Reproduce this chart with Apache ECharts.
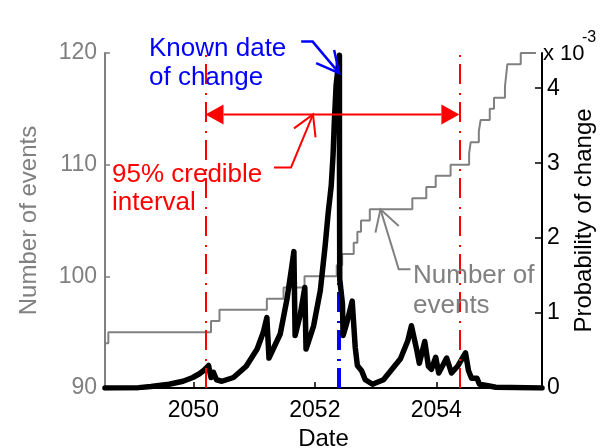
<!DOCTYPE html>
<html>
<head>
<meta charset="utf-8">
<script src="https://cdn.jsdelivr.net/npm/echarts@6/dist/echarts.min.js"></script>
<style>
  html, body { margin: 0; padding: 0; background: #fff; }
  #chart { width: 605px; height: 448px; }
</style>
</head>
<body>
<div id="chart"></div>
<script>
// Date range shown on the x axis and its labelled years
const dateRange = [2048.545, 2055.74];
const dateTicks = [2050, 2052, 2054];

// Cumulative number of events: date at which each count begins
const eventDates = [2048.545, 2048.60, 2050.29, 2050.43, 2051.21, 2051.485, 2051.83, 2052.36,
  2052.45, 2052.64, 2052.70, 2052.76, 2052.905, 2053.605, 2053.835, 2053.99, 2054.235,
  2054.54, 2054.565, 2054.70, 2054.73, 2054.88, 2054.95, 2055.13, 2055.15, 2055.17,
  2055.39, 2055.64];
const eventCounts = [94, 95, 96, 97, 98, 99, 100, 101, 102, 103, 104, 105, 106, 107, 108,
  109, 110, 111, 112, 113, 114, 115, 116, 117, 118, 119, 120, 120];

// Posterior probability of the change date (in units of 1e-3)
const probDates = [2048.545, 2049.10, 2049.30, 2049.60, 2049.83, 2049.99, 2050.10, 2050.18,
  2050.25, 2050.29, 2050.33, 2050.38, 2050.47, 2050.66, 2050.87, 2051.05, 2051.15, 2051.21,
  2051.245, 2051.43, 2051.54, 2051.62, 2051.655, 2051.675, 2051.76, 2051.835, 2051.855,
  2051.98, 2052.09, 2052.17, 2052.22, 2052.27, 2052.30, 2052.32, 2052.35, 2052.405, 2052.405,
  2052.41, 2052.455, 2052.465, 2052.52, 2052.615, 2052.665, 2052.70, 2052.77, 2052.83,
  2052.95, 2053.13, 2053.41, 2053.53, 2053.59, 2053.68, 2053.72, 2053.81, 2053.87, 2053.92,
  2053.99, 2054.04, 2054.17, 2054.25, 2054.35, 2054.48, 2054.53, 2054.58, 2054.67, 2054.71,
  2054.85, 2054.98, 2055.74];
const probValues = [0, 0.005, 0.02, 0.05, 0.09, 0.14, 0.19, 0.24,
  0.30, 0.14, 0.21, 0.11, 0.09, 0.14, 0.29, 0.52, 0.74, 0.94,
  0.40, 0.72, 1.18, 1.62, 1.82, 0.70, 0.98, 1.34, 0.52,
  0.83, 1.30, 1.90, 2.34, 2.70, 3.11, 3.53, 4.04, 4.44, 3.17,
  1.45, 1.12, 0.70, 0.85, 1.16, 0.54, 0.30, 0.23, 0.11,
  0.05, 0.11, 0.39, 0.63, 0.83, 0.50, 0.33, 0.62, 0.29, 0.25,
  0.41, 0.20, 0.40, 0.20, 0.29, 0.47, 0.23, 0.13, 0.13, 0.05,
  0.03, 0.01, 0];

// 95% credible interval bounds and the known change date
const credibleInterval = [2050.20, 2054.38];
const knownChangeDate = 2052.40;
const intervalArrowLevel = 114.5;   // height of the interval arrow on the count axis

const GRAY = '#808080';
const FONT = '"Liberation Sans", Arial, Helvetica, sans-serif';
const DASHDOT = [20, 7, 2, 9];

const chart = echarts.init(document.getElementById('chart'), null, { renderer: 'canvas' });

const zip = (xs, ys) => xs.map((x, i) => [x, ys[i]]);

chart.setOption({
  animation: false,
  textStyle: { fontFamily: FONT },
  grid: { left: 105, right: 63, top: 53, bottom: 60, containLabel: false, outerBoundsMode: 'none' },
  xAxis: {
    type: 'value',
    min: dateRange[0],
    max: dateRange[1],
    name: 'Date',
    nameLocation: 'middle',
    nameGap: 37,
    nameTextStyle: { color: '#000', fontSize: 24, fontFamily: FONT },
    axisLine: { show: true, onZero: false, lineStyle: { color: '#000', width: 2 } },
    axisTick: { show: true, inside: true, length: 6, customValues: dateTicks,
      lineStyle: { color: '#000', width: 1.5 } },
    axisLabel: { customValues: dateTicks, margin: 11, color: '#000', fontSize: 23, fontFamily: FONT,
      formatter: v => String(v) },
    splitLine: { show: false }
  },
  yAxis: [
    {
      type: 'value', position: 'left', min: 90, max: 120, interval: 10,
      name: 'Number of events', nameLocation: 'middle', nameRotate: 90, nameGap: 64,
      nameTextStyle: { color: GRAY, fontSize: 24, fontFamily: FONT },
      axisLine: { show: true, lineStyle: { color: GRAY, width: 2 } },
      axisTick: { show: true, inside: true, length: 5, lineStyle: { color: GRAY, width: 1.5 } },
      axisLabel: { color: GRAY, fontSize: 23, margin: 8, fontFamily: FONT },
      splitLine: { show: false }
    },
    {
      type: 'value', position: 'right', min: 0, max: 4.47, interval: 1,
      name: 'Probability of change', nameLocation: 'middle', nameRotate: 90, nameGap: 30,
      nameTextStyle: { color: '#000', fontSize: 24, fontFamily: FONT },
      axisLine: { show: true, lineStyle: { color: '#000', width: 2 } },
      axisTick: { show: true, inside: true, length: 7, lineStyle: { color: '#000', width: 1.5 } },
      axisLabel: { color: '#000', fontSize: 23, margin: 5, fontFamily: FONT, showMaxLabel: false },
      splitLine: { show: false }
    }
  ],
  series: [
    {
      name: 'Number of events',
      type: 'line',
      yAxisIndex: 0,
      step: 'end',
      data: zip(eventDates, eventCounts),
      showSymbol: false,
      z: 2,
      lineStyle: { color: GRAY, width: 2 },
      markLine: {
        silent: true,
        symbol: 'none',
        z: 1,
        label: { show: false },
        lineStyle: { color: '#0000ff', width: 4, type: DASHDOT },
        data: [{ xAxis: knownChangeDate }]
      }
    },
    {
      name: 'Probability of change',
      type: 'line',
      yAxisIndex: 1,
      data: zip(probDates, probValues),
      showSymbol: false,
      z: 3,
      lineStyle: { color: '#000', width: 5.5, join: 'round', cap: 'round' },
      markLine: {
        silent: true,
        symbol: 'none',
        z: 10,
        label: { show: false },
        lineStyle: { color: '#ff0000', width: 2, type: DASHDOT },
        data: credibleInterval.map(v => ({ xAxis: v }))
      }
    }
  ]
});

// Annotations placed relative to the data positions
const toPx = (x, y, yi) => chart.convertToPixel({ xAxisIndex: 0, yAxisIndex: yi }, [x, y]);
const L = toPx(credibleInterval[0], intervalArrowLevel, 0);
const R = toPx(credibleInterval[1], intervalArrowLevel, 0);
const ay = Math.round(L[1]) + 0.5;
const head = 18, half = 10;

const redTip = toPx(2051.97, intervalArrowLevel, 0);
const blueTip = toPx(knownChangeDate, 118.2, 0);
const grayTip = toPx(2053.08, 106.0, 0);

const txt = (x, y, text, color, size, extra) => Object.assign({
  type: 'text', x: x, y: y, z: 20,
  style: { text: text, fill: color, fontSize: size, fontFamily: FONT,
    align: 'left', verticalAlign: 'alphabetic' }
}, extra || {});

const poly = (pts, color, w) => ({
  type: 'polyline', z: 20, shape: { points: pts },
  style: { stroke: color, lineWidth: w, fill: null, lineJoin: 'miter' }
});

chart.setOption({
  graphic: [
    // credible interval double arrow
    poly([[L[0] + head, ay], [R[0] - head, ay]], '#ff0000', 2),
    { type: 'polygon', z: 20, shape: { points: [[L[0], ay], [L[0] + head, ay - half], [L[0] + head, ay + half]] },
      style: { fill: '#ff0000' } },
    { type: 'polygon', z: 20, shape: { points: [[R[0], ay], [R[0] - head, ay - half], [R[0] - head, ay + half]] },
      style: { fill: '#ff0000' } },

    // credible interval callout
    txt(112, 162, '95% credible', '#ff0000', 26),
    txt(112, 190, 'interval', '#ff0000', 26),
    poly([[redTip[0] - 39, redTip[1] + 53], [redTip[0] - 22, redTip[1] + 53], [redTip[0], redTip[1]]], '#ff0000', 2),
    poly([[redTip[0] - 19, redTip[1] + 14], [redTip[0], redTip[1]], [redTip[0] + 2.5, redTip[1] + 23]], '#ff0000', 2),

    // known date callout
    txt(149, 36, 'Known date', '#0000ff', 26),
    txt(149, 65, 'of change', '#0000ff', 26),
    poly([[blueTip[0] - 38, blueTip[1] - 31.5], [blueTip[0] - 26.5, blueTip[1] - 31.5], [blueTip[0], blueTip[1]]], '#0000ff', 2.5),
    poly([[blueTip[0] - 23, blueTip[1] - 10], [blueTip[0], blueTip[1]], [blueTip[0] - 5, blueTip[1] - 23]], '#0000ff', 2.5),

    // number of events callout
    txt(413, 263, 'Number of', GRAY, 26),
    txt(413, 293, 'events', GRAY, 26),
    poly([[grayTip[0] + 30, grayTip[1] + 60], [grayTip[0] + 18.3, grayTip[1] + 60], [grayTip[0], grayTip[1]]], GRAY, 2),
    poly([[grayTip[0] - 5, grayTip[1] + 23.3], [grayTip[0], grayTip[1]], [grayTip[0] + 18.3, grayTip[1] + 16.7]], GRAY, 2),

    // exponent of the probability axis
    txt(543, 43, 'x 10', '#000', 22),
    txt(582, 30, '-3', '#000', 16)
  ]
});
</script>
</body>
</html>
